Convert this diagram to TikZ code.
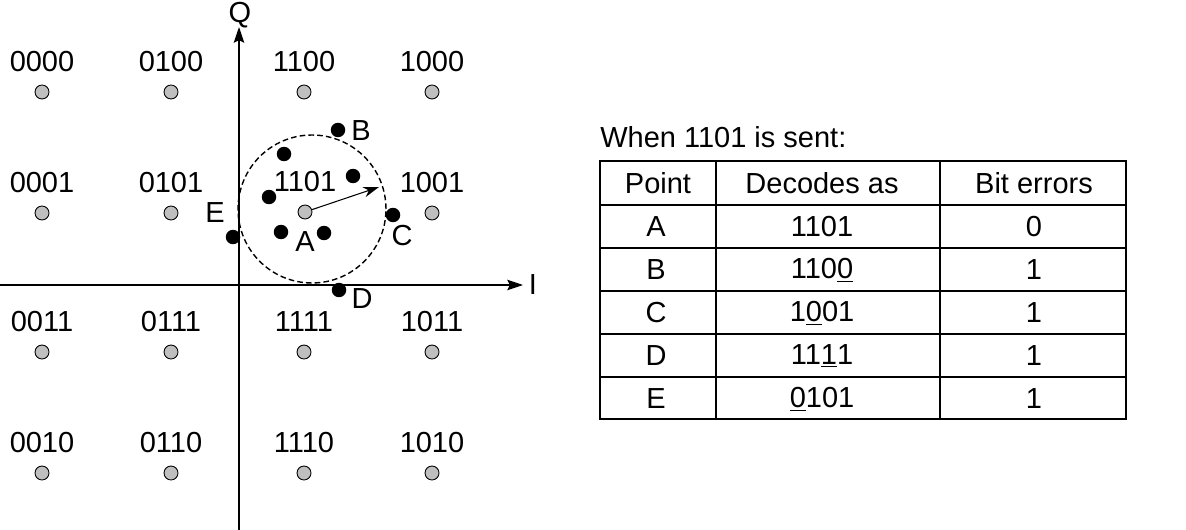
\documentclass[tikz,border=0pt]{standalone}
\usepackage{fontspec}
\setmainfont{Liberation Sans}
\usetikzlibrary{arrows.meta}
\tikzset{
 lbl/.style={font=\fontsize{16.5}{18}\selectfont, inner sep=0pt},
 ideal/.style={circle, draw=black, line width=0.5pt, fill=black!25, minimum size=0.28cm, inner sep=0pt},
 rcvd/.style={circle, fill=black, minimum size=0.29cm, inner sep=0pt},
 axis/.style={line width=0.8pt, -{Stealth[length=9pt,width=6pt,inset=1.5pt]}},
 grid/.style={line width=0.6pt},
}
\newcommand{\constpoint}[4]{%
 \node[ideal] ({#1}) at ({#2},{#3}) {};%
 \node[lbl] ({#1l}) at ({#2},{#3-30}) {#4};%
}
\newcommand{\rxpoint}[3]{%
 \node[rcvd] ({#1}) at ({#2},{#3}) {};%
}

\begin{document}
\begin{tikzpicture}[x=0.02cm,y=-0.02cm]
   \useasboundingbox (0,0) rectangle (1186,530);
   % axes
   \coordinate (qbot) at (239,530);
   \coordinate (qtop) at (239,27);
   \coordinate (ileft) at (0,285);
   \coordinate (iright) at (523,285);
   \draw[axis] (qbot) -- (qtop);
   \draw[axis] (ileft) -- (iright);
   \node[lbl, anchor=north] (qlabel) at (240,2) {Q};
   \node[lbl] (ilabel) at (533,285) {I};
   % constellation
   \constpoint{p0000}{42}{92}{0000};
   \constpoint{p0100}{171}{92}{0100};
   \constpoint{p1100}{304}{92}{1100};
   \constpoint{p1000}{432}{92}{1000};
   \constpoint{p0001}{42}{213}{0001};
   \constpoint{p0101}{171}{213}{0101};
   \constpoint{p1101}{305}{212}{1101};
   \constpoint{p1001}{432}{213}{1001};
   \constpoint{p0011}{42}{352}{0011};
   \constpoint{p0111}{171}{352}{0111};
   \constpoint{p1111}{304}{352}{1111};
   \constpoint{p1011}{432}{352}{1011};
   \constpoint{p0010}{42}{473}{0010};
   \constpoint{p0110}{171}{473}{0110};
   \constpoint{p1110}{304}{473}{1110};
   \constpoint{p1010}{432}{473}{1010};
   % noise circle
   \draw[dashed, dash pattern=on 3.2pt off 1.8pt, line width=0.8pt] (312,209) circle (1.48cm);
   \coordinate (rim) at (379,187);
   \draw[line width=0.6pt, -{Stealth[length=9pt,width=6pt]}] (p1101) -- (rim);
   % received points
   \rxpoint{ptA}{324}{233};
   \rxpoint{ptB}{338}{130};
   \rxpoint{ptC}{393}{215};
   \rxpoint{ptD}{339}{290};
   \rxpoint{ptE}{233}{237};
   \rxpoint{r1}{284}{154};
   \rxpoint{r2}{353}{176};
   \rxpoint{r3}{269}{197};
   \rxpoint{r4}{281}{232};
   \node[lbl] (lA) at (305,242) {A};
   \node[lbl] (lB) at (361,131) {B};
   \node[lbl] (lC) at (402,236) {C};
   \node[lbl] (lD) at (362,299) {D};
   \node[lbl] (lE) at (215,213) {E};
   % table
   \node[lbl, anchor=west] (title) at (600,137) {When 1101 is sent:};
   \draw[grid] (600,161) rectangle (1126,419);
   \draw[grid] (600,205) -- (1126,205);
   \draw[grid] (600,248) -- (1126,248);
   \draw[grid] (600,291) -- (1126,291);
   \draw[grid] (600,334) -- (1126,334);
   \draw[grid] (600,377) -- (1126,377);
   \draw[grid] (716,161) -- (716,419);
   \draw[grid] (940,161) -- (940,419);
   \node[lbl] (h1) at (658,183) {Point};
   \node[lbl] (h2) at (822,183) {Decodes as};
   \node[lbl] (h3) at (1034,183) {Bit errors};
   \node[lbl] (a1) at (656,227) {A};
   \node[lbl] (a2) at (822,227) {1101};
   \node[lbl] (a3) at (1034,227) {0};
   \node[lbl] (b1) at (656,270) {B};
   \node[lbl] (b2) at (822,270) {110\underline{0}};
   \node[lbl] (b3) at (1034,270) {1};
   \node[lbl] (c1) at (656,313) {C};
   \node[lbl] (c2) at (822,313) {1\underline{0}01};
   \node[lbl] (c3) at (1034,313) {1};
   \node[lbl] (d1) at (656,356) {D};
   \node[lbl] (d2) at (822,356) {11\underline{1}1};
   \node[lbl] (d3) at (1034,356) {1};
   \node[lbl] (e1) at (656,399) {E};
   \node[lbl] (e2) at (822,399) {\underline{0}101};
   \node[lbl] (e3) at (1034,399) {1};
\end{tikzpicture}
\end{document}
